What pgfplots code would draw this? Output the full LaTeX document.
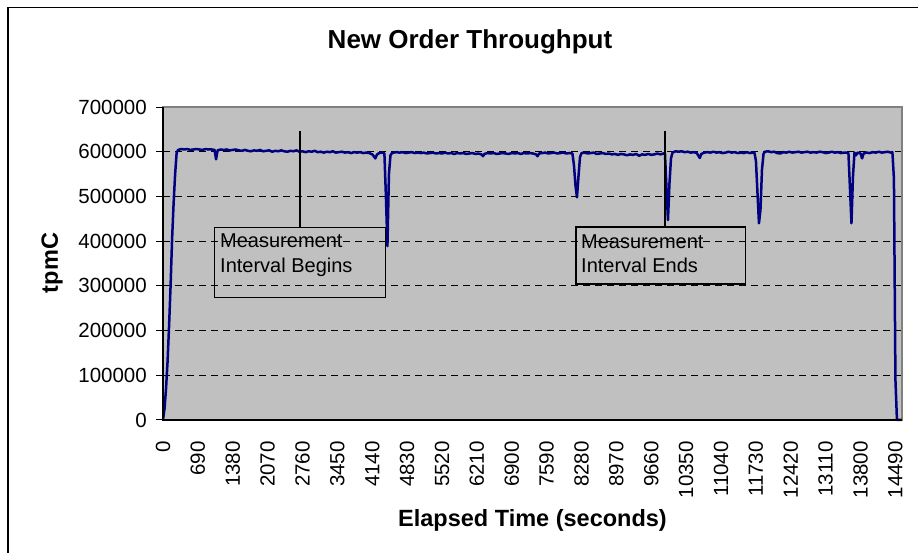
\documentclass[border=0pt]{standalone}
\usepackage{fontspec}
\setmainfont{Liberation Sans}
\usepackage{pgfplots}
\pgfplotsset{compat=1.18}
\definecolor{plotbg}{HTML}{C0C0C0}
\definecolor{navyline}{HTML}{000080}
\pgfplotstableread{
t v
0 0
30 25000
60 70000
90 130000
120 210000
150 300000
180 405000
210 485000
240 550000
270 598000
300 604000
360 606000
420 605000
480 606000
540 604000
600 605000
660 606000
720 605000
780 604000
840 606000
900 605000
960 605000
1020 604000
1050 583000
1080 603000
1140 605000
1200 604000
1260 605000
1320 603000
1380 604000
1440 605000
1500 603000
1560 602000
1620 604000
1680 602000
1740 601000
1800 603000
1860 602000
1920 604000
1980 601000
2040 602000
2100 603000
2160 600000
2220 602000
2280 601000
2340 603000
2400 601000
2460 600000
2520 602000
2580 601000
2640 603000
2700 600000
2760 601000
2820 599000
2880 601000
2940 600000
3000 602000
3060 599000
3120 600000
3180 598000
3240 600000
3300 599000
3360 601000
3420 598000
3480 599000
3540 600000
3600 598000
3660 599000
3720 597000
3780 599000
3840 598000
3900 599000
3960 597000
4020 598000
4080 597000
4140 594000
4170 590000
4200 585000
4230 593000
4260 596000
4290 597000
4320 598000
4350 598000
4380 596000
4410 500000
4440 389000
4470 550000
4500 592000
4530 597000
4560 598000
4620 599000
4680 598000
4740 599000
4800 597000
4860 598000
4920 599000
4980 597000
5040 598000
5100 597000
5160 598000
5220 596000
5280 597000
5340 598000
5400 596000
5460 597000
5520 596000
5580 598000
5640 596000
5700 597000
5760 595000
5820 597000
5880 596000
5940 597000
6000 595000
6060 596000
6120 597000
6180 595000
6240 596000
6300 594000
6330 590000
6360 595000
6420 597000
6480 596000
6540 597000
6600 595000
6660 596000
6720 597000
6780 596000
6840 595000
6900 597000
6960 596000
7020 597000
7080 595000
7140 597000
7200 596000
7260 597000
7320 596000
7380 594000
7410 590000
7440 596000
7500 597000
7560 598000
7620 596000
7680 597000
7740 598000
7800 596000
7860 597000
7920 598000
7980 596000
8040 597000
8100 596000
8130 570000
8160 525000
8190 498000
8220 545000
8250 588000
8280 597000
8340 598000
8400 596000
8460 597000
8520 598000
8580 595000
8640 596000
8700 597000
8760 595000
8820 596000
8880 594000
8940 595000
9000 593000
9060 595000
9120 594000
9180 592000
9240 594000
9300 593000
9360 595000
9420 591000
9480 594000
9540 593000
9600 595000
9660 593000
9720 594000
9780 596000
9840 594000
9900 596000
9930 597000
9960 520000
9990 447000
10020 530000
10050 585000
10080 598000
10140 601000
10200 600000
10260 601000
10320 599000
10380 600000
10440 598000
10500 599000
10560 597000
10620 586000
10650 595000
10710 598000
10770 599000
10830 598000
10890 600000
10950 598000
11010 599000
11070 597000
11130 598000
11190 600000
11250 598000
11310 599000
11370 597000
11430 598000
11490 597000
11550 599000
11610 597000
11670 598000
11700 598000
11730 580000
11760 510000
11790 440000
11820 470000
11850 560000
11880 595000
11910 600000
11970 601000
12030 599000
12090 600000
12150 597000
12210 596000
12270 599000
12330 598000
12390 600000
12450 598000
12510 599000
12570 600000
12630 598000
12690 599000
12750 600000
12810 598000
12870 599000
12930 598000
12990 600000
13050 599000
13110 597000
13170 598000
13230 600000
13290 598000
13350 599000
13410 597000
13470 598000
13530 598000
13560 597000
13590 520000
13620 440000
13650 545000
13680 598000
13710 592000
13740 598000
13770 597000
13800 596000
13830 585000
13860 596000
13920 598000
13980 597000
14040 599000
14100 598000
14160 600000
14220 598000
14280 599000
14340 600000
14400 598000
14430 599000
14460 540000
14490 90000
14520 0
14550 0
14580 0
14610 0
}\tpmdata
\begin{document}
\begin{tikzpicture}
\path[use as bounding box] (0pt,0pt) rectangle (918pt,553pt);
\draw[line width=1.3pt] (8pt,0pt) -- (8pt,545.5pt) -- (918pt,545.5pt);
\begin{axis}[
  at={(163pt,133pt)}, anchor=south west,
  width=739pt, height=313pt, scale only axis,
  xmin=0, xmax=14620, ymin=0, ymax=700000,
  clip=false,
  axis background/.style={fill=plotbg},
  axis line style={draw=gray, line width=1.2pt},
  xtick={0,690,1380,2070,2760,3450,4140,4830,5520,6210,6900,7590,8280,8970,9660,10350,11040,11730,12420,13110,13800,14490},
  ytick={0,100000,200000,300000,400000,500000,600000,700000},
  scaled x ticks=false, scaled y ticks=false,
  /pgf/number format/fixed,
  /pgf/number format/1000 sep={},
  /pgf/number format/assume math mode=true,
  xtick pos=bottom, ytick pos=left,
  tick align=outside,
  major tick length=7pt,
  xtick style={draw=none},
  ytick style={black, line width=1pt},
  ymajorgrids,
  major grid style={black, dash pattern=on 7pt off 5pt, line width=0.9pt},
  yticklabel style={font=\fontsize{20.5}{24}\selectfont, anchor=east, inner sep=0pt, xshift=-9pt},
  xticklabel style={font=\fontsize{20.5}{24}\selectfont, yshift=-14pt, rotate=90, anchor=east, inner sep=0pt},
]
\addplot[navyline, line width=2.5pt, line join=round] table[x=t, y=v] {\tpmdata};
\draw[black, line width=1.3pt] (rel axis cs:0,1) -- (rel axis cs:0,0) -- (rel axis cs:1,0);
\end{axis}
\begin{scope}[x=1pt, y=1pt]
\draw[black, line width=1.2pt] (300,422) -- (300,325.7);
\draw[black, line width=1.2pt] (214.7,325.7) rectangle (385.3,255.3);
\node[anchor=base west, inner sep=0pt, font=\fontsize{20}{24}\selectfont] at (220,305) {Measurement};
\node[anchor=base west, inner sep=0pt, font=\fontsize{20}{24}\selectfont] at (220,280) {Interval Begins};
\draw[black, line width=1.2pt] (665,422) -- (665,326);
\draw[black, line width=1.2pt] (576,326) rectangle (745.7,269);
\node[anchor=base west, inner sep=0pt, font=\fontsize{20}{24}\selectfont] at (581,304.7) {Measurement};
\node[anchor=base west, inner sep=0pt, font=\fontsize{20}{24}\selectfont] at (581,280.7) {Interval Ends};
\node[anchor=base, inner sep=0pt, font=\bfseries\fontsize{26}{30}\selectfont] at (470,504.7) {New Order Throughput};
\node[rotate=90, inner sep=0pt, font=\bfseries\fontsize{23.5}{28}\selectfont] at (52,290) {tpmC};
\node[anchor=base, inner sep=0pt, font=\bfseries\fontsize{23.5}{28}\selectfont] at (532.5,26) {Elapsed Time (seconds)};
\end{scope}
\end{tikzpicture}
\end{document}
